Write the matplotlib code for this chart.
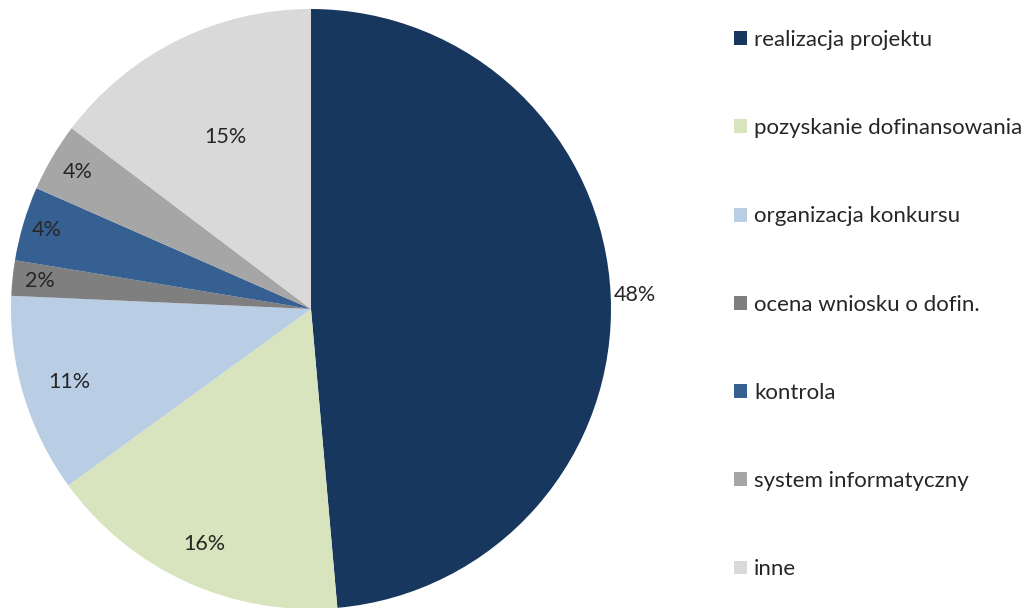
import numpy as np
import matplotlib.pyplot as plt
from matplotlib.patches import Patch

plt.rcParams['font.family'] = ['Lato', 'DejaVu Sans']

categories = ['realizacja projektu', 'pozyskanie dofinansowania', 'organizacja konkursu',
              'ocena wniosku o dofin.', 'kontrola', 'system informatyczny', 'inne']
shares = [48.6, 16.4, 10.7, 1.9, 4.0, 3.7, 14.7]
pct_labels = ['48%', '16%', '11%', '2%', '4%', '4%', '15%']
colors = ['#17375E', '#D7E4BD', '#B9CDE5', '#7F7F7F', '#376092', '#A6A6A6', '#D9D9D9']

fig = plt.figure(figsize=(10.36, 6.08), dpi=100)
W, H = 1036, 608
cx, cy, r = 311, 309, 300
ax = fig.add_axes([(cx - r) / W, (H - cy - r) / H, 2 * r / W, 2 * r / H])

wedges, _ = ax.pie(shares, colors=colors, startangle=90, counterclock=False,
                   radius=1, wedgeprops=dict(linewidth=0))
ax.set_xlim(-1, 1)
ax.set_ylim(-1, 1)
ax.set_aspect('equal')
ax.axis('off')

# label distances from the centre, per slice
dists = [1.08, 0.86, 0.84, 0.91, 0.92, 0.9, 0.64]
for w, lab, d in zip(wedges, pct_labels, dists):
    ang = np.deg2rad((w.theta1 + w.theta2) / 2)
    ax.text(d * np.cos(ang), d * np.sin(ang), lab, ha='center', va='center',
            fontsize=15.5, color='#262626')

handles = [Patch(facecolor=c, edgecolor='none') for c in colors]
leg = fig.legend(handles, categories, loc='upper left', bbox_to_anchor=(734 / W, 1 - 30 / H),
                 frameon=False, fontsize=16, labelspacing=3.07, handlelength=0.58,
                 handleheight=0.58, handletextpad=0.32, borderpad=0, borderaxespad=0)
for t in leg.get_texts():
    t.set_color('#262626')

fig.savefig('out.png', dpi=100)
